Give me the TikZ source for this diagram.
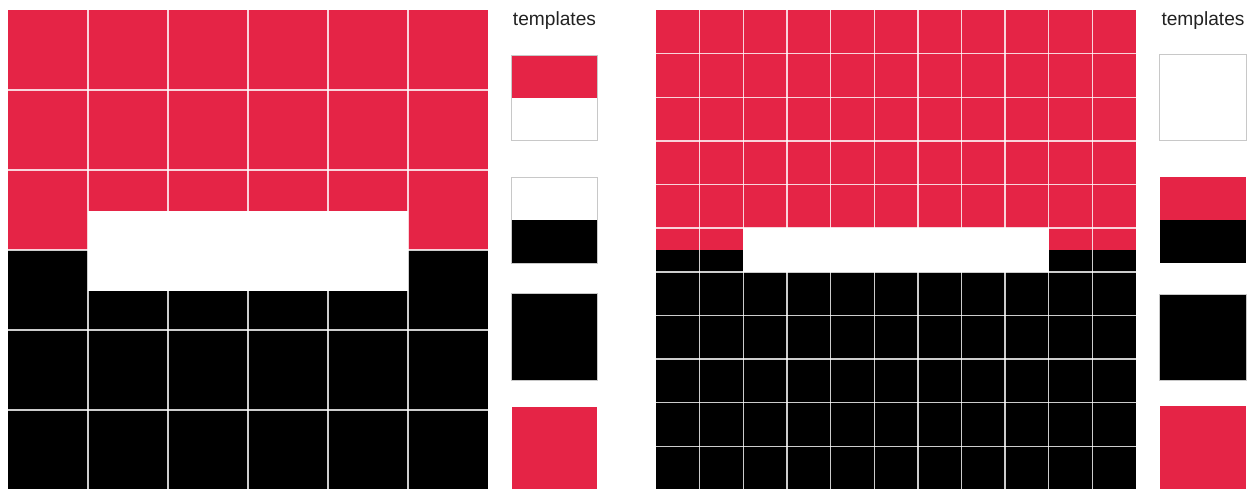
\documentclass[tikz,border=0pt]{standalone}
\usepackage{fontspec}
\setmainfont{Liberation Sans}
\usetikzlibrary{positioning}
\definecolor{PanelRed}{RGB}{229,36,70}
\definecolor{FrameGray}{RGB}{200,200,200}
\definecolor{LabelInk}{RGB}{34,34,34}

\begin{document}
\begin{tikzpicture}[x=0.02cm, y=-0.02cm,
  redcell/.style={fill=PanelRed},
  blackcell/.style={fill=black},
  gridline/.style={draw=white, opacity=0.8, line width=0.8pt},
  tmplframe/.style={draw=FrameGray, line width=0.5pt},
  tmpllabel/.style={font=\fontsize{10.9}{13}\selectfont, text=LabelInk, inner sep=0pt, anchor=base}]
  \useasboundingbox (0,0) rectangle (1257,489);

  % left panel, 6 x 6 cells of 80px
  \fill[redcell] (8,10) rectangle (488,250);
  \fill[blackcell] (8,250) rectangle (488,489);
  \foreach \i in {1,...,5} {
    \draw[gridline] (8+80*\i,10) -- (8+80*\i,489);
    \draw[gridline] (8,10+80*\i) -- (488,10+80*\i);
  }
  \fill[white] (88,211) rectangle (408,291);

  % left templates
  \node[tmpllabel] (labelL) at (554.5,25.3) {templates};
  \fill[redcell] (511.5,55) rectangle (597,98);
  \draw[tmplframe] (511.5,55) rectangle (597,140);
  \fill[blackcell] (511.5,220) rectangle (597,263);
  \draw[tmplframe] (511.5,177) rectangle (597,263);
  \filldraw[blackcell, tmplframe] (511.5,293) rectangle (597,380);
  \fill[redcell] (511.5,407) rectangle (597,489);

  % right panel, 11 x 11 cells
  \def\cs{43.64}
  \fill[redcell] (656,10) rectangle (1136,250);
  \fill[blackcell] (656,250) rectangle (1136,489);
  \foreach \i in {1,...,10} {
    \draw[gridline] (656+\cs*\i,10) -- (656+\cs*\i,489);
    \draw[gridline] (656,10+\cs*\i) -- (1136,10+\cs*\i);
  }
  \fill[white] (656+2*\cs,10+5*\cs) rectangle (656+9*\cs,10+6*\cs);

  % right templates
  \node[tmpllabel] (labelR) at (1203,25.3) {templates};
  \draw[tmplframe] (1159.5,54.5) rectangle (1246,140);
  \fill[redcell] (1159.5,177) rectangle (1246,220);
  \fill[blackcell] (1159.5,220) rectangle (1246,263);
  \filldraw[blackcell, tmplframe] (1159.5,294) rectangle (1246,380);
  \fill[redcell] (1159.5,406) rectangle (1246,489);
\end{tikzpicture}
\end{document}
